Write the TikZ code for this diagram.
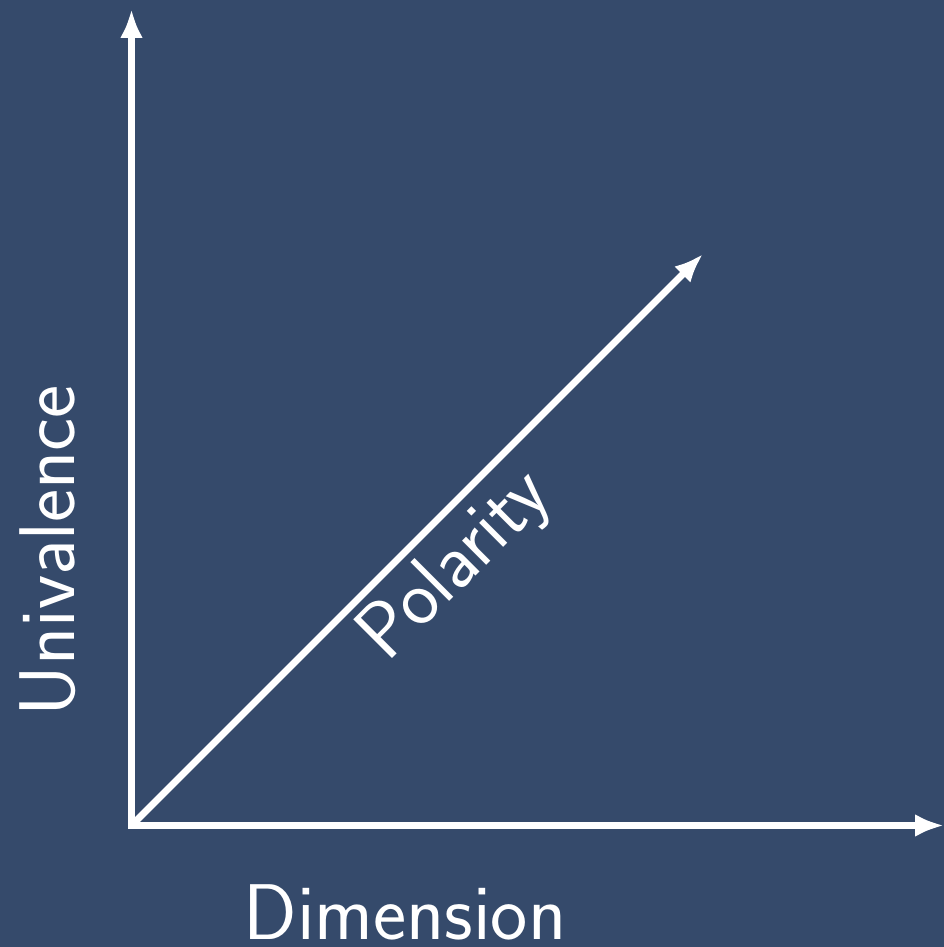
\documentclass[tikz,border=0pt]{standalone}
\usetikzlibrary{arrows.meta}
\definecolor{bgblue}{HTML}{354A6B}
\tikzset{
  axis/.style={white, line width=7pt, -{Latex[length=29pt,width=23pt]}},
  axislabel/.style={white, inner sep=0pt, font=\sffamily\fontsize{79}{95}\selectfont}
}
\begin{document}
\begin{tikzpicture}[x=1pt, y=1pt]
    %sfondo
    \fill[bgblue] (0,0) rectangle (944,947);
    \useasboundingbox (0,0) rectangle (944,947);
    %origine e punte
    \coordinate (O) at (131.5,121.5);
    \coordinate (ytip) at (131.5,938);
    \coordinate (xtip) at (944,121.5);
    \coordinate (ztip) at (703,693);
    %assi
    \draw[axis, line cap=rect] (O) -- (ytip);
    \draw[axis, line cap=rect] (O) -- (xtip);
    \draw[axis] (O) -- (ztip);
    %etichette
    \node[axislabel, anchor=base] (dim) at (405,8) {Dimension};
    \node[axislabel, anchor=base, rotate=90] (uni) at (74,396) {Univalence};
    \node[axislabel, rotate=45] (pol) at (457,380) {Polarity};
\end{tikzpicture}
\end{document}
